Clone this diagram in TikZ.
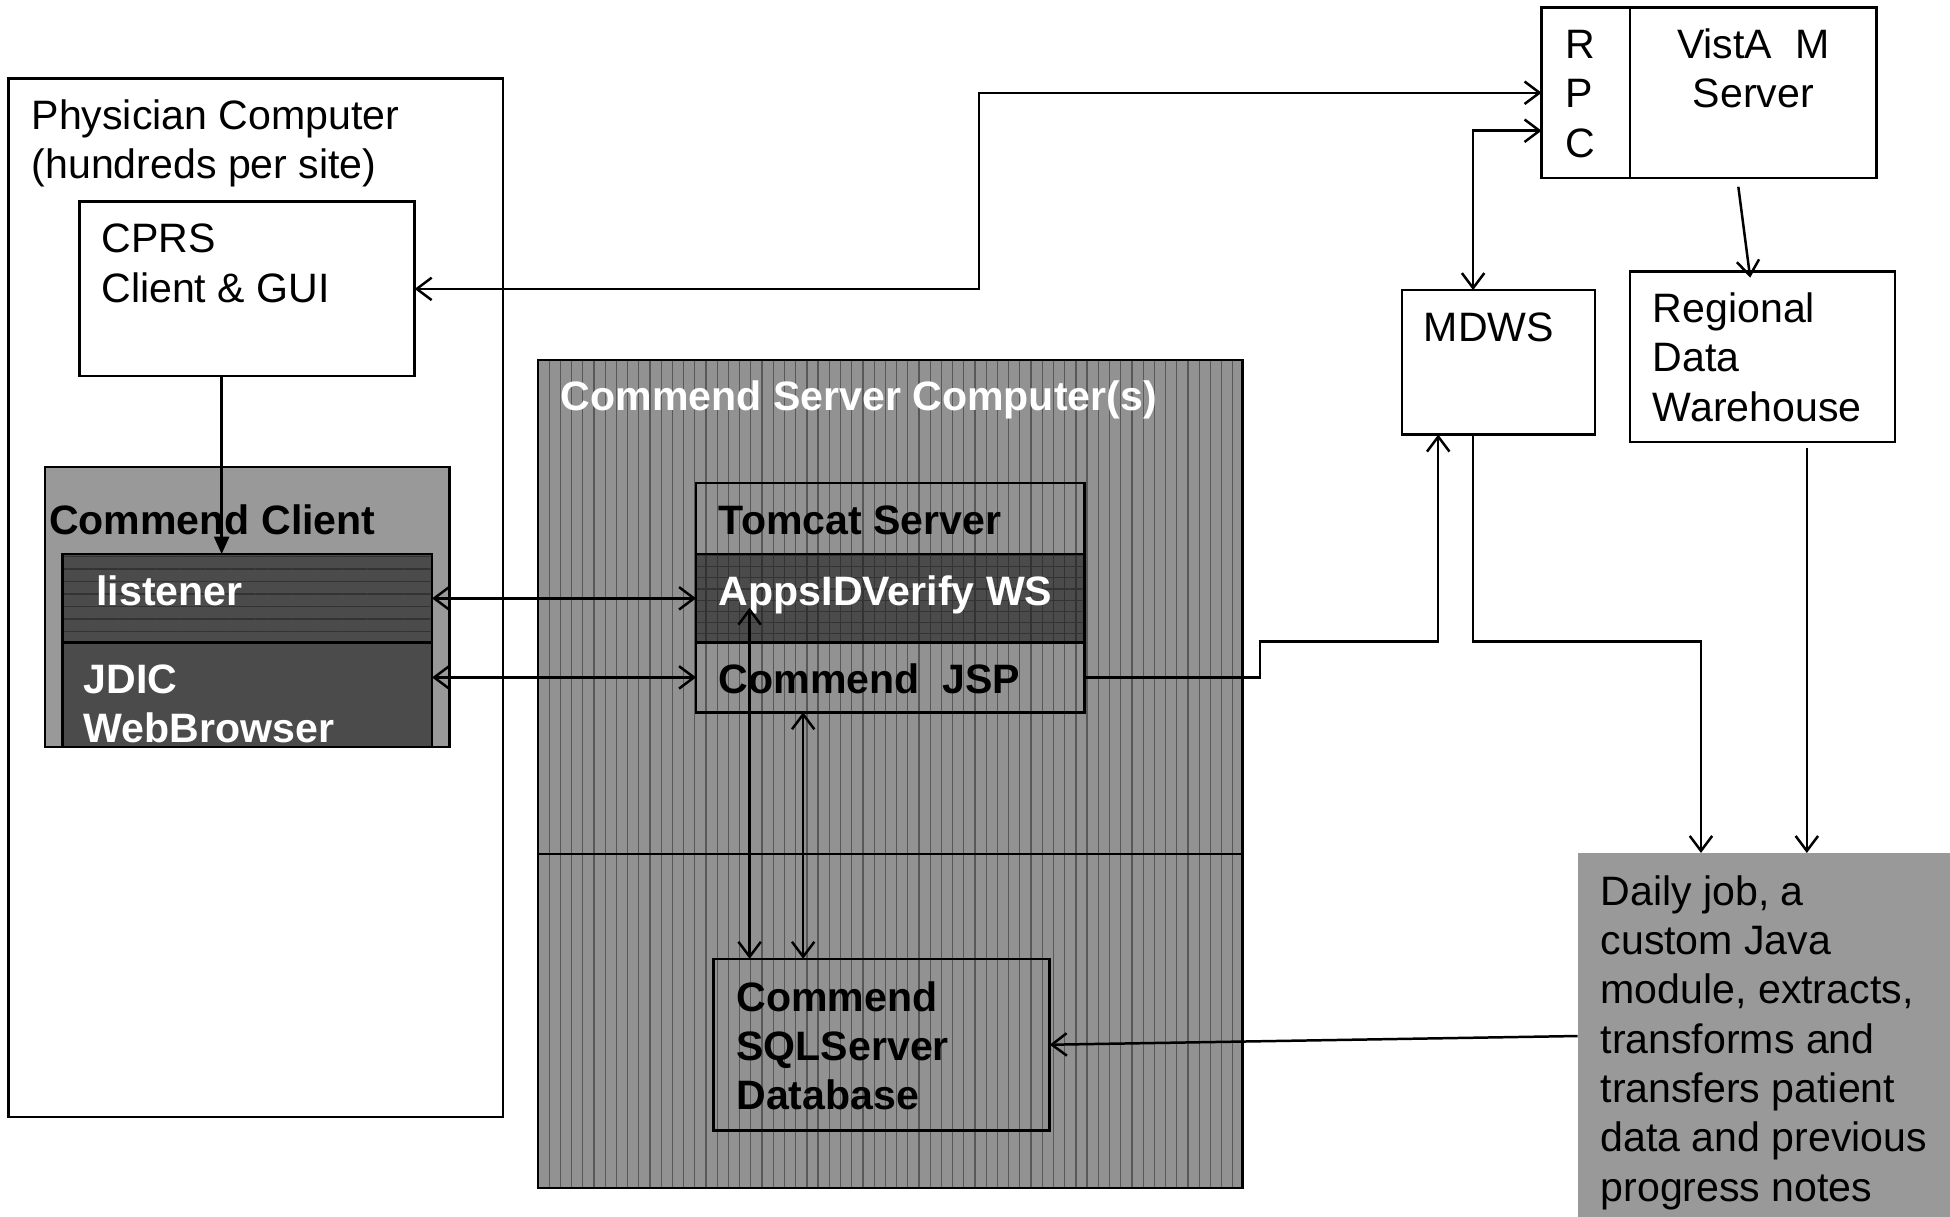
\documentclass[tikz,border=0pt]{standalone}
\usepackage{fontspec}
\setmainfont{Liberation Sans}
\usetikzlibrary{arrows.meta,patterns.meta,calc}
\definecolor{srvgray}{HTML}{929292}
\definecolor{srvline}{HTML}{585858}
\definecolor{midgray}{HTML}{999999}
\definecolor{darkfill}{HTML}{4B4B4B}
\definecolor{darkline}{HTML}{333333}
\tikzset{
  box/.style 2 args={draw=black, line width=1pt, inner sep=0pt, outer sep=0pt, anchor=north west,
    minimum width=#1*0.5pt, minimum height=#2*0.5pt},
  lbl/.style={inner sep=0pt, anchor=base west, align=left, font=\fontsize{16.5}{19.8}\selectfont},
  blbl/.style={lbl, font=\fontsize{16.5}{19.8}\selectfont\bfseries},
  srvbg/.style={preaction={fill=srvgray}, pattern={Lines[angle=90,distance=4.5pt,line width=0.5pt]}, pattern color=srvline},
  rowsbg/.style={preaction={fill=darkfill}, pattern={Lines[angle=0,distance=5pt,line width=0.6pt]}, pattern color=darkline},
  gridbg/.style={preaction={fill=darkfill}, pattern={Hatch[distance=4.5pt,line width=0.5pt]}, pattern color=darkline},
  link/.style={line width=1pt, {Straight Barb[length=6pt,width=9pt]}-{Straight Barb[length=6pt,width=9pt]}},
  feed/.style={line width=1pt, -{Straight Barb[length=6pt,width=9pt]}}
}
\begin{document}
\begin{tikzpicture}[x=0.5pt,y=-0.5pt]
  \useasboundingbox (0,0) rectangle (1566,977);

  \node[box={397}{834}, fill=white] (phys) at (7,63) {};
  \node[lbl] (physT) at (25,143.6) {Physician Computer\\(hundreds per site)};
  \node[box={269}{140}, fill=white] (cprs) at (64,162) {};
  \node[lbl] (cprsT) at (81,242.6) {CPRS\\Client \& GUI};

  \node[box={325}{225}, fill=midgray] (client) at (36,375) {};
  \node[blbl] (clientT) at (39,429) {Commend Client};
  \node[box={297}{71}, rowsbg] (listener) at (50,445) {};
  \node[blbl, text=white] (listenerT) at (77,486) {listener};
  \node[box={297}{84}, fill=darkfill] (jdic) at (50,516) {};
  \node[blbl, text=white] (jdicT) at (67,596.6) {JDIC\\WebBrowser};

  \node[box={566}{665}, srvbg] (server) at (432,289) {};
  \draw[line width=1pt] ($(server.north west)+(0,397)$) -- ($(server.north east)+(0,397)$);
  \node[blbl, text=white] (serverT) at (450,330) {Commend Server Computer(s)};
  \node[box={312}{57}] (tomcat) at (559,388) {};
  \node[blbl] (tomcatT) at (577,429) {Tomcat Server};
  \node[box={312}{71}, gridbg] (apps) at (559,445) {};
  \node[blbl, text=white] (appsT) at (577,486) {AppsIDVerify WS};
  \node[box={312}{56}] (jsp) at (559,516) {};
  \node[blbl] (jspT) at (577,557) {Commend\ \ JSP};
  \node[box={270}{138}] (sql) at (573,770) {};
  \node[blbl] (sqlT) at (591,891.2) {Commend\\SQLServer\\Database};

  \node[box={71}{137}, fill=white] (rpc) at (1238,6) {};
  \node[lbl] (rpcT) at (1257,126.2) {R\\P\\C};
  \node[box={198}{137}, fill=white] (vista) at (1309,6) {};
  \node[lbl, align=center, anchor=base] (vistaT) at (1408,86.6) {VistA\ \ M\\Server};
  \node[box={155}{116}, fill=white] (mdws) at (1126,233) {};
  \node[lbl] (mdwsT) at (1143,274) {MDWS};
  \node[box={213}{137}, fill=white] (rdw) at (1309,218) {};
  \node[lbl] (rdwT) at (1327,338.2) {Regional\\Data\\Warehouse};
  \node[box={299}{294}, draw=none, fill=midgray] (daily) at (1267,685) {};
  \node[lbl] (dailyT) at (1285,964.6) {Daily job, a\\custom Java\\module, extracts,\\transforms and\\transfers patient\\data and previous\\progress notes};

  \coordinate (bendA) at (786,74);
  \draw[link] (cprs.east) -| (bendA |- rpc.west) -- (rpc.west);
  \draw[link] ($(mdws.north)+(-20.5,0)$) |- ($(rpc.west)+(0,30.5)$);
  \draw[feed] ($(vista.south)+(-12,7)$) -- ($(rdw.north)+(-10,5)$);
  \draw[line width=1pt, -{Triangle[length=7pt,width=6pt]}] ($(cprs.south)+(-20.5,0)$) -- ($(listener.north)+(-20.5,0)$);
  \draw[link] (listener.east) -- (apps.west);
  \draw[link] (jdic.east |- jsp.west) -- (jsp.west);
  \draw[link] ($(sql.north west)+(29,0)$) -- ($(apps.south west)+(43,-28)$);
  \draw[link] ($(jsp.south west)+(86,0)$) -- ($(sql.north west)+(72,0)$);
  \draw[feed] (jsp.east) -- ++(141,0) -- ++(0,-29) -| ($(mdws.south)+(-48.5,0)$);
  \draw[feed] ($(mdws.south)+(-20.5,0)$) -- ++(0,166) -| ($(daily.north)+(-50.5,0)$);
  \draw[feed] ($(rdw.south)+(35.5,5)$) -- ($(daily.north)+(34.5,0)$);
  \draw[feed] (daily.west) -- (sql.east);
\end{tikzpicture}
\end{document}
